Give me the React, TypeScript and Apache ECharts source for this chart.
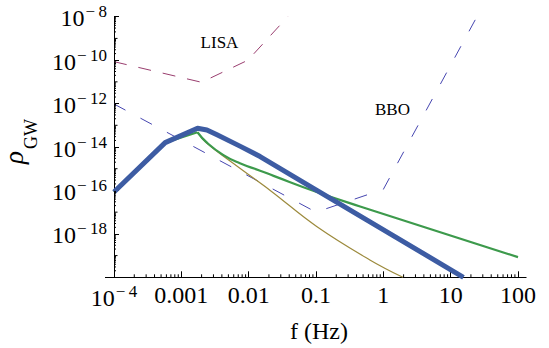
import React, { useEffect, useRef } from 'react';
import * as echarts from 'echarts';

// Tick labels (log10 exponents on both axes)
const xTickExps = [-4, -3, -2, -1, 0, 1, 2];
const xTickText = ['', '0.001', '0.01', '0.1', '1', '10', '100'];
const yTickExps = [-18, -16, -14, -12, -10, -8];

// Curves as (log10 f, log10 rho)
const lisaLogF = [-4, -2.7, -2.01, -1.42];
const lisaLogRho = [-10.07, -11.02, -10.0, -8.0];

const bboLogF = [-4, -1.0, 0, 1.39];
const bboLogRho = [-12.02, -17.0, -15.95, -8.0];

const totalLogF = [-4, -3.24, -2.76, -2.62, -2.47, -2.13, -1.83, -1.0, 1.19];
const totalLogRho = [-16.07, -13.8, -13.14, -13.22, -13.44, -13.96, -14.44, -15.97, -20.0];

const greenLogF = [-4, -3.24, -2.76, -2.62, -2.38, -2.13, -1.83, -1.63, -1.01, -0.345, 2];
const greenLogRho = [-16.07, -13.8, -13.32, -13.8, -14.36, -14.75, -15.09, -15.33, -16.05, -16.74, -19.07];

const oliveLogF = [-2.76, -2.62, -2.13, -1.68, -0.99, -0.2, 0.29];
const oliveLogRho = [-13.32, -13.83, -14.98, -16.0, -17.66, -19.2, -20.0];

const FAMILY = 'Liberation Serif';

const zip = (a: number[], b: number[]) => a.map((v, i) => [v, b[i]]);
const pow10Label = (n: number) => '{b|10}{s|\u2212\u2009' + Math.abs(n) + '}';

export default function App() {
  const ref = useRef<HTMLDivElement>(null);
  useEffect(() => {
    if (!ref.current) return;
    const chart = echarts.init(ref.current, undefined, { renderer: 'svg' });

    const minorTicks: number[][] = [];
    for (let n = -4; n < 2; n++) {
      for (let k = 2; k <= 9; k++) minorTicks.push([n + Math.log10(k), -20, 3, 0]);
    }
    for (let n = -20; n < -8; n++) {
      if (n % 2 !== 0) minorTicks.push([-4, n, 3.5, 1]);
      for (let k = 2; k <= 9; k++) minorTicks.push([-4, n + Math.log10(k), 2, 1]);
    }

    const rich = {
      b: { fontSize: 24, fontFamily: FAMILY, color: '#000', lineHeight: 27, verticalAlign: 'bottom' },
      s: { fontSize: 17, fontFamily: FAMILY, color: '#000', lineHeight: 15, verticalAlign: 'top', padding: [0, 0, 0, 1] },
    };

    const greenPeak = 2;
    const line = (data: number[][], color: string, width: number, z: number, smooth: any = false, extra: any = {}) => ({
      type: 'line',
      data,
      showSymbol: false,
      smooth,
      lineStyle: { color, width, ...extra },
      z,
    });

    const option: any = {
      animation: false,
      backgroundColor: '#fff',
      grid: { left: 114, right: 31, top: 16.7, bottom: 70.7 },
      xAxis: {
        type: 'value',
        min: -4,
        max: 2,
        interval: 1,
        splitLine: { show: false },
        axisLine: { onZero: false, lineStyle: { color: '#000', width: 1 } },
        axisTick: { inside: true, length: 6, lineStyle: { color: '#000' } },
        axisLabel: {
          margin: 6,
          color: '#000',
          fontSize: 24,
          fontFamily: FAMILY,
          rich,
          formatter: (v: number) => {
            const n = Math.round(v);
            const i = xTickExps.indexOf(n);
            if (n === -4) return pow10Label(n);
            return i >= 0 ? xTickText[i] : '';
          },
        },
      },
      yAxis: {
        type: 'value',
        min: -20,
        max: -8,
        interval: 2,
        splitLine: { show: false },
        axisLine: { onZero: false, lineStyle: { color: '#000', width: 1 } },
        axisTick: { inside: true, length: 5, lineStyle: { color: '#000' } },
        axisLabel: {
          margin: 7,
          color: '#000',
          fontSize: 24,
          fontFamily: FAMILY,
          rich,
          formatter: (v: number) => {
            const n = Math.round(v);
            if (yTickExps.indexOf(n) < 0) return '';
            return pow10Label(n);
          },
        },
      },
      series: [
        line(zip(lisaLogF, lisaLogRho), '#993d6e', 1, 2, false, { type: [13, 12] }),
        line(zip(bboLogF, bboLogRho), '#4646b0', 1, 2, false, { type: [13, 17] }),
        line(zip(oliveLogF, oliveLogRho), '#9c8a3c', 1.2, 3, 0.4),
        line(zip(greenLogF, greenLogRho).slice(0, greenPeak + 1), '#3d9a4c', 2.2, 4),
        line(zip(greenLogF, greenLogRho).slice(greenPeak), '#3d9a4c', 2.2, 4, 0.5),
        line(zip(totalLogF, totalLogRho), '#3d5ca3', 5, 5, false, { join: 'round' }),
        {
          type: 'custom',
          silent: true,
          clip: false,
          z: 6,
          data: minorTicks,
          encode: { x: 0, y: 1 },
          renderItem: (params: any, api: any) => {
            const p = api.coord([api.value(0), api.value(1)]);
            const len = api.value(2);
            const dir = api.value(3);
            const shape = dir === 0
              ? { x1: p[0], y1: p[1], x2: p[0], y2: p[1] - len }
              : { x1: p[0], y1: p[1], x2: p[0] + len, y2: p[1] };
            return { type: 'line', shape, style: { stroke: '#000', lineWidth: 1 } };
          },
        },
      ],
      graphic: [
        { type: 'line', shape: { x1: 105, y1: 277.5, x2: 114, y2: 277.5 }, style: { stroke: '#000', lineWidth: 1 } },
        { type: 'line', shape: { x1: 518, y1: 277.5, x2: 526.5, y2: 277.5 }, style: { stroke: '#000', lineWidth: 1 } },
        { type: 'text', x: 219.5, y: 42.7, style: { text: 'LISA', font: '17px ' + FAMILY, fill: '#000', textAlign: 'center', textVerticalAlign: 'middle' } },
        { type: 'text', x: 392.5, y: 109.3, style: { text: 'BBO', font: '17px ' + FAMILY, fill: '#000', textAlign: 'center', textVerticalAlign: 'middle' } },
        { type: 'text', x: 319, y: 331, style: { text: 'f (Hz)', font: '24px ' + FAMILY, fill: '#000', textAlign: 'center', textVerticalAlign: 'middle' } },
        { type: 'text', x: 14, y: 157.5, rotation: Math.PI / 2, style: { text: '\u03c1', font: 'italic 27px ' + FAMILY, fill: '#000', textAlign: 'center', textVerticalAlign: 'middle' } },
        { type: 'text', x: 30.5, y: 134, rotation: Math.PI / 2, style: { text: 'GW', font: '18px ' + FAMILY, fill: '#000', textAlign: 'center', textVerticalAlign: 'middle' } },
      ],
    };
    chart.setOption(option);
    return () => chart.dispose();
  }, []);
  return (
    <div
      ref={ref}
      style={{ position: 'fixed', left: 0, top: 0, width: 549, height: 348, background: '#fff' }}
    />
  );
}
